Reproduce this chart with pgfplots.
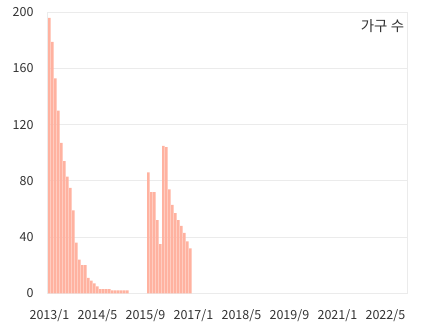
\documentclass[border=0pt]{standalone}
\usepackage{pgfplots}
\pgfplotsset{compat=1.18}
\usepackage{fontspec}
\setmainfont{Noto Sans CJK KR}
\definecolor{barc}{RGB}{255,178,160}
\definecolor{gridc}{RGB}{235,235,235}
\definecolor{txt}{RGB}{51,51,51}
\begin{document}
\begin{tikzpicture}
\path[use as bounding box] (0,0) rectangle (430bp,336bp);
\begin{axis}[
  at={(47bp,42.7bp)}, anchor=south west,
  scale only axis, width=360bp, height=281bp,
  xmin=-0.8, xmax=119.2, ymin=0, ymax=200,
  ytick={0,40,80,120,160,200},
  xtick={0,16,32,48,64,80,96,112},
  xticklabels={2013/1,2014/5,2015/9,2017/1,2018/5,2019/9,2021/1,2022/5},
  major tick length=0pt,
  ymajorgrids, grid style={gridc, line width=0.8bp},
  axis line style={gridc, line width=0.8bp},
  tick label style={font=\fontsize{12.5bp}{14bp}\selectfont, text=txt},
  /pgf/number format/assume math mode=true,
  yticklabel style={xshift=-10bp},
  xticklabel style={yshift=-13bp},
  legend style={draw=none, fill=none, at={(0.998,0.982)}, anchor=north east,
    font=\fontsize{14.5bp}{16bp}\selectfont, text=txt, inner sep=0pt},
  legend image code/.code={},
  legend cell align=right,
]
\addplot[ybar, bar width=0.88, fill=barc, draw=none] coordinates {
(0,196) (1,179) (2,153) (3,130) (4,107) (5,94) (6,83) (7,75) (8,59) (9,36)
(10,24) (11,20) (12,20) (13,11) (14,9) (15,7) (16,5) (17,3) (18,3) (19,3)
(20,3) (21,2) (22,2) (23,2) (24,2) (25,2) (26,2)
(33,86) (34,72) (35,72) (36,52) (37,35) (38,105) (39,104) (40,74) (41,63)
(42,57) (43,52) (44,48) (45,43) (46,37) (47,32)
};
\addlegendentry{가구 수}
\end{axis}
\end{tikzpicture}
\end{document}
